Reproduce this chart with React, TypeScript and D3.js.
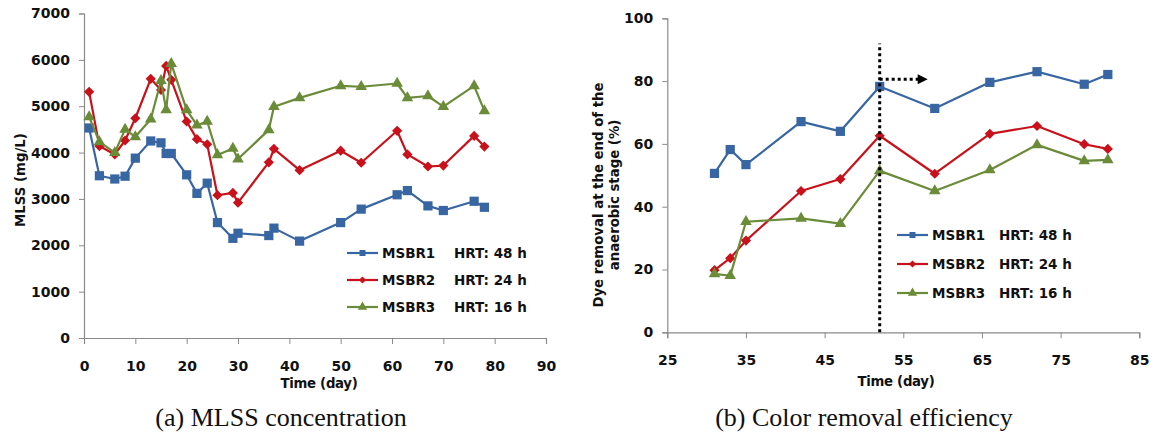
import { useEffect, useRef } from 'react';
import * as d3 from 'd3';

// (a) MLSS concentration
const mlssDays = [1, 3, 6, 8, 10, 13, 15, 16, 17, 20, 22, 24, 26, 29, 30, 36, 37, 42, 50, 54, 61, 63, 67, 70, 76, 78];
const mlss1 = [4530, 3500, 3430, 3490, 3880, 4250, 4210, 3980, 3980, 3520, 3120, 3340, 2490, 2150, 2260, 2210, 2370, 2090, 2490, 2780, 3090, 3180, 2850, 2750, 2950, 2820];
const mlss2 = [5310, 4140, 3960, 4260, 4740, 5590, 5350, 5870, 5570, 4670, 4290, 4180, 3080, 3130, 2920, 3790, 4080, 3620, 4040, 3780, 4470, 3960, 3700, 3720, 4360, 4130];
const mlss3 = [4770, 4230, 4000, 4500, 4340, 4720, 5550, 4920, 5920, 4920, 4590, 4670, 3950, 4090, 3860, 4490, 4990, 5180, 5440, 5420, 5490, 5180, 5220, 4990, 5440, 4900];

// (b) Color removal efficiency
const dyeDays = [31, 33, 35, 42, 47, 52, 59, 66, 72, 78, 81];
const dye1 = [50.6, 58.2, 53.4, 67.1, 64.0, 78.3, 71.3, 79.6, 83.0, 79.0, 82.1];
const dye2 = [19.8, 23.6, 29.2, 45.0, 48.8, 62.6, 50.5, 63.2, 65.7, 59.9, 58.4];
const dye3 = [18.6, 18.0, 35.2, 36.3, 34.6, 51.4, 45.0, 51.7, 59.7, 54.6, 54.9];

const seriesNames = ['MSBR1', 'MSBR2', 'MSBR3'];
const hrtLabels = ['HRT: 48 h', 'HRT: 24 h', 'HRT: 16 h'];
const mlssTicksY = [0, 1000, 2000, 3000, 4000, 5000, 6000, 7000];
const mlssTicksX = [0, 10, 20, 30, 40, 50, 60, 70, 80, 90];
const dyeTicksY = [0, 20, 40, 60, 80, 100];
const dyeTicksX = [25, 35, 45, 55, 65, 75, 85];
const switchDay = 52;

const colors = ['#3866A2', '#C8111B', '#6A8B38'];
const FONT = '"DejaVu Sans", sans-serif';

type Panel = {
    days: number[];
    series: number[][];
    xDomain: [number, number];
    yDomain: [number, number];
    xRange: [number, number];
    yRange: [number, number];
    xTicks: number[];
    yTicks: number[];
    legend: { x: number; y: number; dy: number; hrtX: number };
};

function marker(i: number, small: boolean) {
    if (i === 0) return d3.symbol(d3.symbolSquare, small ? 36 : 85)();
    if (i === 1) return d3.symbol(d3.symbolSquare, small ? 26 : 52)();
    return d3.symbol(d3.symbolTriangle, small ? 38 : 58)();
}

const App = () => {
    const ref = useRef<SVGSVGElement | null>(null);

    useEffect(() => {
        const svg = d3.select(ref.current);
        svg.selectAll('*').remove();

        const drawPanel = (p: Panel) => {
            const x = d3.scaleLinear().domain(p.xDomain).range(p.xRange);
            const y = d3.scaleLinear().domain(p.yDomain).range(p.yRange);
            const g = svg.append('g');

            const yAxis = g.append('g')
                .attr('transform', `translate(${p.xRange[0]},0)`)
                .call(d3.axisLeft(y).tickValues(p.yTicks).tickSize(5).tickPadding(9).tickFormat(d3.format('d')));
            const xAxis = g.append('g')
                .attr('transform', `translate(0,${p.yRange[0]})`)
                .call(d3.axisBottom(x).tickValues(p.xTicks).tickSize(6).tickPadding(17).tickFormat(d3.format('d')));
            [xAxis, yAxis].forEach(a => {
                a.select('.domain').attr('stroke', '#8a8a8a').attr('stroke-width', 1.2);
                a.selectAll('.tick line').attr('stroke', '#8a8a8a');
                a.selectAll('.tick text')
                    .attr('fill', '#111')
                    .style('font-family', FONT)
                    .style('font-weight', 'bold')
                    .style('font-size', '14px');
            });

            p.series.forEach((vals, si) => {
                const pts = vals.map((v, i) => [p.days[i], v] as [number, number]);
                const line = d3.line<[number, number]>()
                    .x(d => x(d[0]))
                    .y(d => y(d[1]));
                g.append('path')
                    .datum(pts)
                    .attr('d', line)
                    .attr('fill', 'none')
                    .attr('stroke', colors[si])
                    .attr('stroke-width', 2.2)
                    .attr('stroke-linejoin', 'round');
                g.selectAll(null)
                    .data(pts)
                    .enter()
                    .append('path')
                    .attr('d', marker(si, false))
                    .attr('transform', d => `translate(${x(d[0])},${y(d[1])})${si === 1 ? ' rotate(45)' : ''}`)
                    .attr('fill', colors[si]);
            });

            const lg = g.append('g');
            seriesNames.forEach((name, i) => {
                const ly = p.legend.y + i * p.legend.dy;
                lg.append('line')
                    .attr('x1', p.legend.x).attr('x2', p.legend.x + 31)
                    .attr('y1', ly).attr('y2', ly)
                    .attr('stroke', colors[i]).attr('stroke-width', 2.2);
                lg.append('path')
                    .attr('d', marker(i, true))
                    .attr('transform', `translate(${p.legend.x + 15.5},${ly})${i === 1 ? ' rotate(45)' : ''}`)
                    .attr('fill', colors[i]);
                lg.append('text')
                    .attr('x', p.legend.x + 35).attr('y', ly)
                    .attr('dy', '0.36em')
                    .style('font-family', FONT).style('font-weight', 'bold').style('font-size', '13.5px')
                    .attr('fill', '#111')
                    .text(name);
                lg.append('text')
                    .attr('x', p.legend.hrtX).attr('y', ly)
                    .attr('dy', '0.36em')
                    .style('font-family', FONT).style('font-weight', 'bold').style('font-size', '13.5px')
                    .attr('fill', '#111')
                    .text(hrtLabels[i]);
            });

            return { g, x, y };
        };

        const left = drawPanel({
            days: mlssDays,
            series: [mlss1, mlss2, mlss3],
            xDomain: [0, 90], yDomain: [0, 7000],
            xRange: [84, 546], yRange: [338, 13.5],
            xTicks: mlssTicksX, yTicks: mlssTicksY,
            legend: { x: 347, y: 253, dy: 27, hrtX: 454 },
        });
        const right = drawPanel({
            days: dyeDays,
            series: [dye1, dye2, dye3],
            xDomain: [25, 85], yDomain: [0, 100],
            xRange: [667.3, 1139.3], yRange: [332.3, 18.3],
            xTicks: dyeTicksX, yTicks: dyeTicksY,
            legend: { x: 897, y: 235, dy: 29, hrtX: 999 },
        });

        // phase switch marker on (b)
        right.g.append('line')
            .attr('x1', right.x(switchDay)).attr('x2', right.x(switchDay))
            .attr('y1', right.y(0)).attr('y2', right.y(92))
            .attr('stroke', '#000').attr('stroke-width', 3).attr('stroke-dasharray', '3,3');
        right.g.append('line')
            .attr('x1', right.x(switchDay)).attr('x2', right.x(57))
            .attr('y1', right.y(80.6)).attr('y2', right.y(80.6))
            .attr('stroke', '#000').attr('stroke-width', 3).attr('stroke-dasharray', '3,3');
        const tipX = right.x(58.1), tipY = right.y(80.6);
        right.g.append('path')
            .attr('d', `M${tipX},${tipY} L${tipX - 10},${tipY - 5} L${tipX - 10},${tipY + 5} Z`)
            .attr('fill', '#000');

        // axis titles
        const title = (x: number, y: number, txt: string, rot: boolean) =>
            svg.append('text')
                .attr('transform', `translate(${x},${y})${rot ? ' rotate(-90)' : ''}`)
                .attr('text-anchor', 'middle')
                .attr('dy', '0.36em')
                .style('font-family', FONT).style('font-weight', 'bold').style('font-size', '13.3px')
                .attr('fill', '#111')
                .text(txt);
        title(20, 180, 'MLSS (mg/L)', true);
        title(319, 383, 'Time (day)', false).style('letter-spacing', '-0.3px');
        title(598, 195, 'Dye removal at the end of the', true);
        title(614, 195, 'anaerobic stage (%)', true);
        title(896, 381, 'Time (day)', false).style('letter-spacing', '-0.3px');

        // captions
        const caption = (x: number, txt: string) =>
            svg.append('text')
                .attr('x', x).attr('y', 426)
                .attr('text-anchor', 'middle')
                .style('font-family', '"Liberation Serif", "Times New Roman", serif')
                .style('font-size', '26px')
                .attr('fill', '#111')
                .text(txt);
        caption(281, '(a) MLSS concentration');
        caption(864, '(b) Color removal efficiency');

        void left;
    }, []);

    return (
        <svg ref={ref} width={1156} height={439}
            style={{ position: 'absolute', left: 0, top: 0, background: '#fff' }} />
    );
};

export default App;
